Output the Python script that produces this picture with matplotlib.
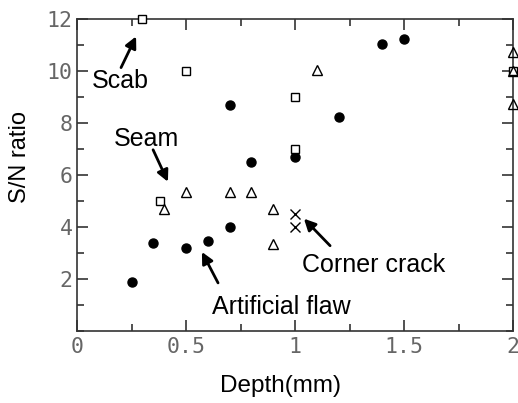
import matplotlib
matplotlib.use("Agg")
import matplotlib.pyplot as plt
from matplotlib.ticker import MultipleLocator, FixedLocator

# Data
flaw_x = [0.25, 0.35, 0.5, 0.6, 0.7, 0.7, 0.8, 1.0, 1.2, 1.4, 1.5]
flaw_y = [1.9, 3.4, 3.2, 3.45, 4.0, 8.7, 6.5, 6.7, 8.25, 11.05, 11.25]

scab_x = [0.3, 0.5, 1.0, 1.0, 0.38, 2.0]
scab_y = [12.0, 10.0, 9.0, 7.0, 5.0, 10.0]

seam_x = [0.4, 0.5, 0.7, 0.8, 0.9, 0.9, 1.1, 2.0, 2.0, 2.0]
seam_y = [4.7, 5.35, 5.35, 5.35, 4.7, 3.35, 10.05, 10.75, 10.0, 8.75]

crack_x = [1.0, 1.0]
crack_y = [4.5, 4.0]

xticks = [0, 0.5, 1, 1.5, 2]
xticklabels = ["0", "0.5", "1", "1.5", "2"]
yticks = [2, 4, 6, 8, 10, 12]
yticklabels = ["2", "4", "6", "8", "10", "12"]

W, H = 518, 403
fig = plt.figure(figsize=(W / 100, H / 100), dpi=100)
ax = fig.add_axes([77 / W, 1 - 331 / H, (513 - 77) / W, (331 - 19) / H])

ax.plot(flaw_x, flaw_y, 'o', color='black', markersize=6.5, clip_on=False, zorder=3)
ax.plot(scab_x, scab_y, 's', mfc='white', mec='black', mew=1.0, markersize=6, clip_on=False, zorder=3)
ax.plot(seam_x, seam_y, '^', mfc='none', mec='black', mew=1.0, markersize=6.5, clip_on=False, zorder=4)
ax.plot(crack_x, crack_y, 'x', color='black', mew=1.0, markersize=6.5, clip_on=False, zorder=3)

ax.set_xlim(0, 2)
ax.set_ylim(0, 12)
ax.xaxis.set_major_locator(FixedLocator(xticks))
ax.yaxis.set_major_locator(FixedLocator(yticks))
ax.set_xticklabels(xticklabels)
ax.set_yticklabels(yticklabels)
ax.xaxis.set_minor_locator(MultipleLocator(0.25))
ax.yaxis.set_minor_locator(MultipleLocator(1))

for s in ax.spines.values():
    s.set_linewidth(1.2)
    s.set_color('#333333')

ax.tick_params(which='both', direction='in', top=True, right=True, color='#333333', width=1.2)
ax.tick_params(which='major', length=8)
ax.tick_params(which='minor', length=5)
ax.tick_params(axis='x', which='major', pad=4)
ax.tick_params(axis='y', which='major', pad=3)
for lab in ax.get_xticklabels() + ax.get_yticklabels():
    lab.set_fontfamily('DejaVu Sans Mono')
    lab.set_fontsize(15.5)
    lab.set_color('#666666')

ax.set_xlabel('Depth(mm)', fontsize=17.5, family='Liberation Sans')
ax.xaxis.set_label_coords((281 - 77) / 436, -(386 - 331) / 312, transform=ax.transAxes)
ax.xaxis.label.set_va('center')
ax.set_ylabel('S/N ratio', fontsize=17, family='Liberation Sans')
ax.yaxis.set_label_coords(-(77 - 20) / 436, (331 - 157) / 312)
ax.yaxis.label.set_va('center')

arrow_kw = dict(arrowstyle='-|>', lw=2.0, color='black', mutation_scale=17, shrinkA=0, shrinkB=0)
labels = [
    ("Scab", (0.197, 9.63), (0.202, 10.13), (0.271, 11.33)),
    ("Seam", (0.317, 7.40), (0.349, 6.97), (0.417, 5.74)),
    ("Corner crack", (1.362, 2.54), (1.161, 3.28), (1.041, 4.32)),
    ("Artificial flaw", (0.936, 0.92), (0.647, 1.85), (0.573, 3.04)),
]
for txt, tpos, tail, head in labels:
    ax.text(tpos[0], tpos[1], txt, ha='center', va='center', fontsize=18, family='Liberation Sans')
    ax.annotate('', xy=head, xytext=tail, arrowprops=arrow_kw)

fig.savefig('out.png', dpi=100)
